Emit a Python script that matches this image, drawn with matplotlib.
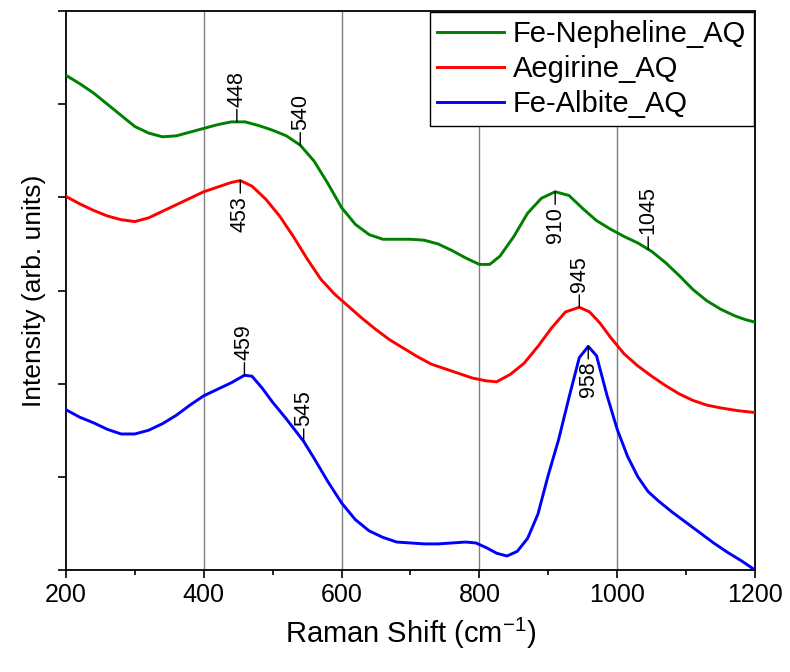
import numpy as np
import matplotlib
matplotlib.use('Agg')
import matplotlib.pyplot as plt
from matplotlib.ticker import MultipleLocator, NullFormatter

# 스펙트럼 데이터 (그림에서 읽은 값, 임의 단위 / 오프셋 포함)
neph_x = [200, 220, 240, 260, 280, 300, 320, 340, 360, 380, 400, 420, 440, 460, 480,
          500, 520, 540, 560, 580, 600, 620, 640, 660, 680, 700, 720, 740, 760, 780,
          800, 815, 830, 850, 870, 890, 910, 930, 950, 970, 990, 1010, 1030, 1050, 1070,
          1090, 1110, 1130, 1150, 1170, 1185, 1200]
neph_y = [5.31, 5.22, 5.12, 5.00, 4.88, 4.76, 4.69, 4.65, 4.66, 4.70, 4.74, 4.78, 4.81, 4.81, 4.77,
          4.72, 4.66, 4.56, 4.39, 4.15, 3.89, 3.71, 3.60, 3.55, 3.55, 3.55, 3.54, 3.50, 3.43, 3.35,
          3.28, 3.28, 3.37, 3.58, 3.83, 3.99, 4.06, 4.02, 3.88, 3.75, 3.66, 3.58, 3.51, 3.42, 3.30,
          3.16, 3.01, 2.89, 2.80, 2.73, 2.69, 2.66]

aeg_x = [200, 220, 240, 260, 280, 300, 320, 340, 360, 380, 400, 420, 440, 453, 470,
         490, 510, 530, 550, 570, 590, 610, 630, 650, 670, 690, 710, 730, 750, 770,
         790, 810, 825, 845, 865, 885, 905, 925, 945, 960, 975, 990, 1010, 1030, 1050,
         1070, 1090, 1110, 1130, 1150, 1175, 1200]
aeg_y = [4.01, 3.93, 3.86, 3.80, 3.76, 3.74, 3.78, 3.85, 3.92, 3.99, 4.06, 4.11, 4.16, 4.18, 4.12,
         3.98, 3.80, 3.58, 3.34, 3.12, 2.96, 2.83, 2.70, 2.58, 2.47, 2.38, 2.29, 2.21, 2.16, 2.11,
         2.06, 2.03, 2.02, 2.10, 2.22, 2.40, 2.60, 2.77, 2.82, 2.77, 2.65, 2.50, 2.32, 2.19, 2.08,
         1.98, 1.89, 1.82, 1.77, 1.74, 1.71, 1.69]

alb_x = [200, 220, 240, 260, 280, 300, 320, 340, 360, 380, 400, 420, 440, 459, 470,
         485, 500, 520, 545, 560, 580, 600, 620, 640, 660, 680, 700, 720, 740, 760,
         780, 795, 810, 825, 840, 855, 870, 885, 900, 915, 930, 945, 958, 970, 985,
         1000, 1015, 1030, 1045, 1060, 1080, 1100, 1120, 1140, 1160, 1180, 1200]
alb_y = [1.72, 1.64, 1.58, 1.51, 1.46, 1.46, 1.50, 1.57, 1.66, 1.77, 1.87, 1.94, 2.01, 2.09, 2.08,
         1.95, 1.80, 1.62, 1.38, 1.20, 0.95, 0.72, 0.54, 0.42, 0.35, 0.30, 0.29, 0.28, 0.28, 0.29,
         0.30, 0.29, 0.24, 0.18, 0.15, 0.20, 0.34, 0.60, 1.02, 1.40, 1.85, 2.28, 2.40, 2.30, 1.88,
         1.51, 1.22, 1.00, 0.84, 0.74, 0.62, 0.51, 0.40, 0.29, 0.19, 0.10, 0.00]

series_names = ['Fe-Nepheline_AQ', 'Aegirine_AQ', 'Fe-Albite_AQ']
series_colors = ['#008000', '#ff0000', '#0000ff']

# 피크 표시 (위치, 위/아래)
neph_peaks = [(448, 'up'), (540, 'up'), (910, 'down'), (1045, 'up')]
aeg_peaks = [(453, 'down'), (945, 'up')]
alb_peaks = [(459, 'up'), (545, 'up'), (958, 'down')]

plt.rcParams['font.family'] = ['Liberation Sans', 'DejaVu Sans']
plt.rcParams['mathtext.fontset'] = 'custom'
plt.rcParams['mathtext.rm'] = 'Liberation Sans'

fig = plt.figure(figsize=(7.9, 6.72), dpi=100)
ax = fig.add_axes([0.0835, 0.1518, 0.8722, 0.8318])

data = [(neph_x, neph_y, neph_peaks), (aeg_x, aeg_y, aeg_peaks), (alb_x, alb_y, alb_peaks)]

for (xs, ys, peaks), name, col in zip(data, series_names, series_colors):
    ax.plot(xs, ys, color=col, lw=2.1, label=name, zorder=3)
    for p, side in peaks:
        yv = np.interp(p, xs, ys)
        off = 11 if side == 'up' else -11
        ax.annotate(str(p), xy=(p, yv), xytext=(0, off), textcoords='offset points',
                    rotation=90, ha='center', va='bottom' if side == 'up' else 'top',
                    fontsize=15.5,
                    arrowprops=dict(arrowstyle='-', lw=1.0, color='black',
                                    shrinkA=0, shrinkB=0), zorder=4)

# 세로 격자선
for gx in [400, 600, 800, 1000]:
    ax.axvline(gx, color='#808080', lw=1.0, zorder=1)

ax.set_xlim(200, 1200)
ax.set_ylim(0, 6)
ax.xaxis.set_major_locator(MultipleLocator(200))
ax.xaxis.set_minor_locator(MultipleLocator(100))
ax.yaxis.set_major_locator(MultipleLocator(1))
ax.yaxis.set_major_formatter(NullFormatter())
ax.tick_params(axis='both', which='major', direction='out', length=6, width=1.2, labelsize=18)
ax.tick_params(axis='x', which='minor', direction='out', length=3.5, width=1.2)
for s in ax.spines.values():
    s.set_linewidth(1.3)

ax.set_xlabel('Raman Shift (cm$^{-1}$)', fontsize=21, labelpad=6)
ax.set_ylabel('Intensity (arb. units)', fontsize=19, labelpad=5)

leg = ax.legend(loc='upper right', fontsize=21, frameon=True, fancybox=False,
                framealpha=1, edgecolor='black', borderaxespad=0.05,
                handlelength=2.3, handletextpad=0.3, labelspacing=0.25,
                borderpad=0.25)
leg.get_frame().set_linewidth(1.0)

fig.savefig('out.png', dpi=100)
